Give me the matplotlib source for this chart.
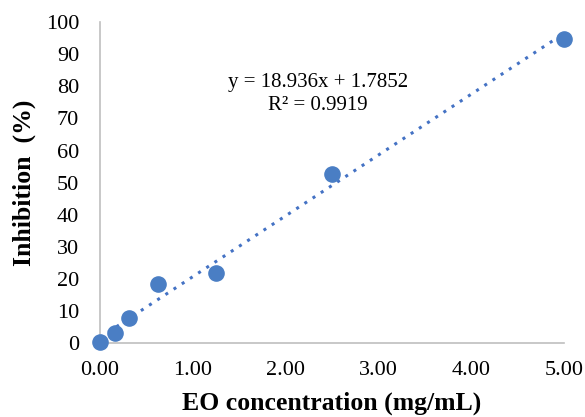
import numpy as np
import matplotlib
matplotlib.use("Agg")
import matplotlib.pyplot as plt

# EO concentration (mg/mL) vs inhibition (%)
conc = [0.0, 0.156, 0.3125, 0.625, 1.25, 2.5, 5.0]
inhibition = [0.3, 3.3, 7.9, 18.3, 22.0, 52.8, 94.8]
slope = 18.936
intercept = 1.7852
r2 = 0.9919

xticks = [0, 1, 2, 3, 4, 5]
yticks = list(range(0, 101, 10))

blue = "#4A7EC4"
grey = "#BFBFBF"

plt.rcParams["font.family"] = ["Liberation Serif", "DejaVu Serif"]

fig = plt.figure(figsize=(5.85, 4.17), dpi=100)
ax = fig.add_axes([0.171, 0.177, 0.793, 0.770])

xf = np.array([0.0, 5.0])
ax.plot(xf, slope * xf + intercept, linestyle=(0, (1, 2.2)), color="#4472C4", linewidth=2.2, zorder=2)
ax.scatter(conc, inhibition, s=120, color=blue, zorder=3, clip_on=False)

ax.set_xlim(0, 5)
ax.set_ylim(0, 100)
ax.set_xticks(xticks)
ax.set_xticklabels([f"{v:.2f}" for v in xticks])
ax.set_yticks(yticks)
ax.tick_params(length=0, labelsize=16)
ax.tick_params(axis="x", pad=13)
ax.tick_params(axis="y", pad=15)

for s in ["top", "right"]:
    ax.spines[s].set_visible(False)
for s in ["left", "bottom"]:
    ax.spines[s].set_color(grey)
    ax.spines[s].set_linewidth(1.2)

ax.set_xlabel("EO concentration (mg/mL)", fontsize=18.5, fontweight="bold", labelpad=8)
ax.set_ylabel("Inhibition  (%)", fontsize=18.5, fontweight="bold", labelpad=7)

ax.text(2.35, 81.3, f"y = {slope}x + {intercept}", ha="center", va="center", fontsize=15)
ax.text(2.35, 74.0, f"R² = {r2}", ha="center", va="center", fontsize=15)

fig.savefig("out.png", dpi=100)
